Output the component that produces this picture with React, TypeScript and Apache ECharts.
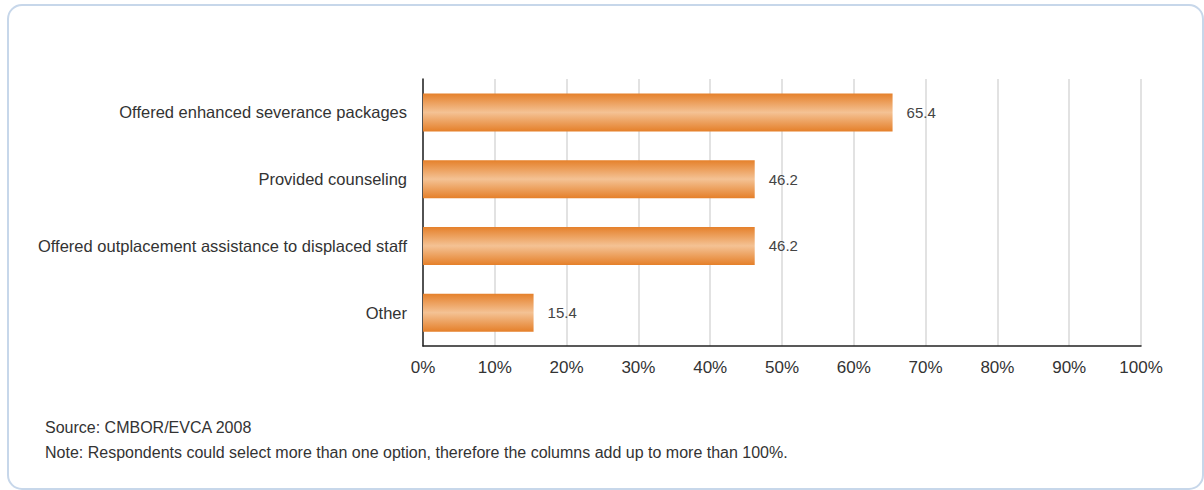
import React, { useEffect, useRef } from "react";
import * as echarts from "echarts";

const categories = [
  "Offered enhanced severance packages",
  "Provided counseling",
  "Offered outplacement assistance to displaced staff",
  "Other",
];
const values = [65.4, 46.2, 46.2, 15.4];
const xTicks = [0, 10, 20, 30, 40, 50, 60, 70, 80, 90, 100];
const sourceText = "Source: CMBOR/EVCA 2008";
const noteText =
  "Note: Respondents could select more than one option, therefore the columns add up to more than 100%.";

const FONT = "'Liberation Sans', Arial, sans-serif";

export default function App() {
  const ref = useRef<HTMLDivElement>(null);
  useEffect(() => {
    if (!ref.current) return;
    const chart = echarts.init(ref.current, undefined, { renderer: "svg" });
    const barColor = new echarts.graphic.LinearGradient(0, 0, 0, 1, [
      { offset: 0, color: "#e5802a" },
      { offset: 0.5, color: "#f4c294" },
      { offset: 1, color: "#e5802a" },
    ]);
    chart.setOption({
      animation: false,
      backgroundColor: "#ffffff",
      grid: { left: 423, right: 63, top: 79, height: 267 },
      xAxis: {
        type: "value",
        min: xTicks[0],
        max: xTicks[xTicks.length - 1],
        interval: 10,
        axisLine: { show: true, lineStyle: { color: "#222", width: 1.5 } },
        axisTick: { show: false },
        splitLine: { show: true, lineStyle: { color: "#d9d9d9", width: 1.5 } },
        axisLabel: {
          formatter: (v: number) => v + "%",
          color: "#333",
          fontFamily: FONT,
          fontSize: 17,
          margin: 13,
        },
      },
      yAxis: {
        type: "category",
        inverse: true,
        data: categories,
        axisLine: { show: true, lineStyle: { color: "#222", width: 1.5 } },
        axisTick: { show: false },
        axisLabel: {
          color: "#333",
          fontFamily: FONT,
          fontSize: 16.5,
          margin: 16,
        },
      },
      series: [
        {
          type: "bar",
          data: values,
          barWidth: 38,
          itemStyle: { color: barColor },
          label: {
            show: true,
            position: "right",
            distance: 14,
            color: "#444",
            fontFamily: FONT,
            fontSize: 15,
            formatter: (p: any) => p.value.toFixed(1),
          },
        },
      ],
      graphic: [
        {
          type: "rect",
          shape: { x: 8, y: 5, width: 1195, height: 484, r: 14 },
          style: { fill: "none", stroke: "#c7d7ea", lineWidth: 2 },
          silent: true,
        },
        {
          type: "text",
          x: 45,
          y: 427,
          style: {
            text: sourceText,
            fill: "#333",
            font: `16px ${FONT}`,
            verticalAlign: "middle",
          },
        },
        {
          type: "text",
          x: 45,
          y: 452,
          style: {
            text: noteText,
            fill: "#333",
            font: `16px ${FONT}`,
            verticalAlign: "middle",
          },
        },
      ],
    });
    return () => chart.dispose();
  }, []);
  return (
    <div
      ref={ref}
      style={{ position: "fixed", left: 0, top: 0, width: 1204, height: 490 }}
    />
  );
}
